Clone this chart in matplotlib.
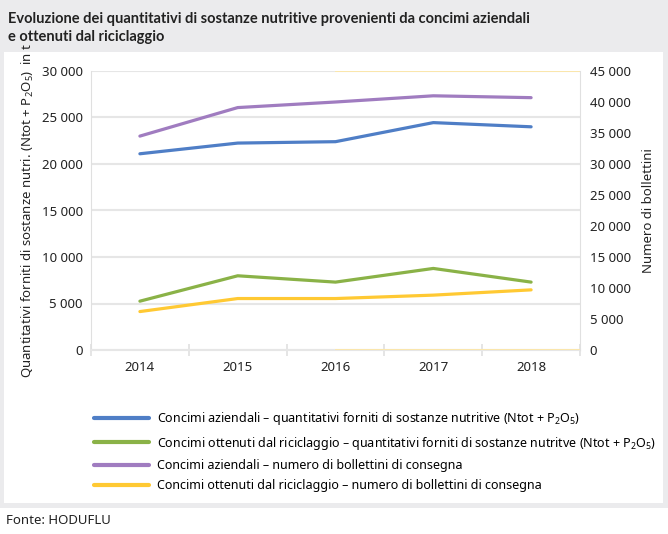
import matplotlib
matplotlib.use('Agg')
import matplotlib.pyplot as plt
from matplotlib.patches import Rectangle
from matplotlib.ticker import FuncFormatter, FixedLocator

plt.rcParams['font.family'] = ['Noto Sans', 'DejaVu Sans']
plt.rcParams['mathtext.default'] = 'regular'

# dati
anni = ['2014', '2015', '2016', '2017', '2018']
aziendali_t = [21100, 22250, 22400, 24450, 24000]
riciclaggio_t = [5250, 7980, 7300, 8770, 7300]
aziendali_boll = [34500, 39100, 40000, 41000, 40700]
riciclaggio_boll = [6200, 8300, 8300, 8850, 9700]

etichette = [
    'Concimi aziendali – quantitativi forniti di sostanze nutritive (Ntot + P$_2$O$_5$)',
    'Concimi ottenuti dal riciclaggio – quantitativi forniti di sostanze nutritve (Ntot + P$_2$O$_5$)',
    'Concimi aziendali – numero di bollettini di consegna',
    'Concimi ottenuti dal riciclaggio – numero di bollettini di consegna',
]
colori = ['#4f7ec6', '#8ab247', '#a07cc0', '#ffc933']

fig = plt.figure(figsize=(6.68, 5.34), dpi=100)
fig.patch.set_facecolor('#ebebed')
# pannello bianco e fondo bianco
fig.patches.append(Rectangle((4/668, 31/534), 659/668, 451/534, transform=fig.transFigure,
                             facecolor='white', edgecolor='none', zorder=-5))
fig.patches.append(Rectangle((0, 0), 1, 26/534, transform=fig.transFigure,
                             facecolor='white', edgecolor='none', zorder=-5))

pos = [91/668, 184/534, 489/668, 279/534]
ax = fig.add_axes(pos)
ax2 = ax.twinx()
ax3 = ax.twinx()
ax.patch.set_visible(False)

x = range(len(anni))
fmt = FuncFormatter(lambda v, p: f'{v:,.0f}'.replace(',', ' '))

# asse sinistro: griglia grigia
ax.set_ylim(0, 30000)
ax.set_xlim(-0.5, 4.5)
ax.set_yticks(range(0, 30001, 5000))
ax.yaxis.set_major_formatter(fmt)
ax.grid(axis='y', color='#e6e6e6', lw=1.5)
ax.set_axisbelow(True)
ax.set_xticks(list(x))
ax.set_xticklabels(anni)
ax.xaxis.set_minor_locator(FixedLocator([-0.5, 0.5, 1.5, 2.5, 3.5, 4.5]))
ax.tick_params(axis='x', which='major', length=0, pad=8, labelsize=9.5, colors='#222222')
ax.tick_params(axis='x', which='minor', length=8, direction='inout', color='#e0e0e0', width=1.2)
ax.tick_params(axis='y', length=0, pad=6, labelsize=9.5, colors='#222222')
for s in ['top', 'right']:
    ax.spines[s].set_visible(False)
ax.spines['left'].set_color('#e0e0e0')
ax.spines['bottom'].set_color('#e6e6e6')
ax.spines['bottom'].set_linewidth(1.5)
ax.set_ylabel('Quantitativi forniti di sostanze nutri. (Ntot + P$_2$O$_5$)  in t',
              fontsize=9.5, labelpad=4, color='#222222')

# asse destro: griglia gialla
ax2.set_ylim(0, 45000)
ax2.set_yticks(range(0, 45001, 5000))
ax2.yaxis.set_major_formatter(fmt)
ax2.yaxis.set_minor_locator(FixedLocator(range(5000, 40001, 5000)))
ax2.grid(axis='y', which='minor', color='#fde7a6', lw=1.3)
ax2.axhline(45000, xmin=0.5, color='#fde7a6', lw=1.3)
ax2.axhline(0, xmin=0.5, color='#fde7a6', lw=1.3)
ax2.tick_params(axis='y', which='both', length=0, pad=7, labelsize=9.5, colors='#222222')
for s in ['top', 'left', 'bottom']:
    ax2.spines[s].set_visible(False)
ax2.spines['right'].set_color('#e0e0e0')
ax2.set_ylabel('Numero di bollettini', fontsize=9.5, labelpad=8, color='#222222')

l3, = ax2.plot(x, aziendali_boll, color=colori[2], lw=2.3, solid_capstyle='round')
l4, = ax2.plot(x, riciclaggio_boll, color=colori[3], lw=2.3, solid_capstyle='round')

# asse in primo piano per le serie in tonnellate
ax3.set_ylim(0, 30000)
ax3.set_yticks([])
for s in ax3.spines.values():
    s.set_visible(False)
l1, = ax3.plot(x, aziendali_t, color=colori[0], lw=2.3, solid_capstyle='round')
l2, = ax3.plot(x, riciclaggio_t, color=colori[1], lw=2.3, solid_capstyle='round')

fig.legend([l1, l2, l3, l4], etichette, loc='upper left', bbox_to_anchor=(89/668, 1 - 405/534),
           frameon=False, fontsize=9, handlelength=4.4, handletextpad=0.65,
           labelspacing=0.6, borderaxespad=0)
for h in fig.legends[0].get_lines():
    h.set_linewidth(3)

fig.text(8/668, 1 - 28/534, 'Evoluzione dei quantitativi di sostanze nutritive provenienti da concimi aziendali\ne ottenuti dal riciclaggio',
         family=['Lato', 'DejaVu Sans'], fontweight='bold', fontsize=10.5,
         color='#222222', va='center', ha='left', linespacing=1.45)
fig.text(6/668, 1 - 521/534, 'Fonte: HODUFLU', fontsize=9.5, color='#222222', va='center')

fig.savefig('out.png', dpi=100, facecolor=fig.get_facecolor())
